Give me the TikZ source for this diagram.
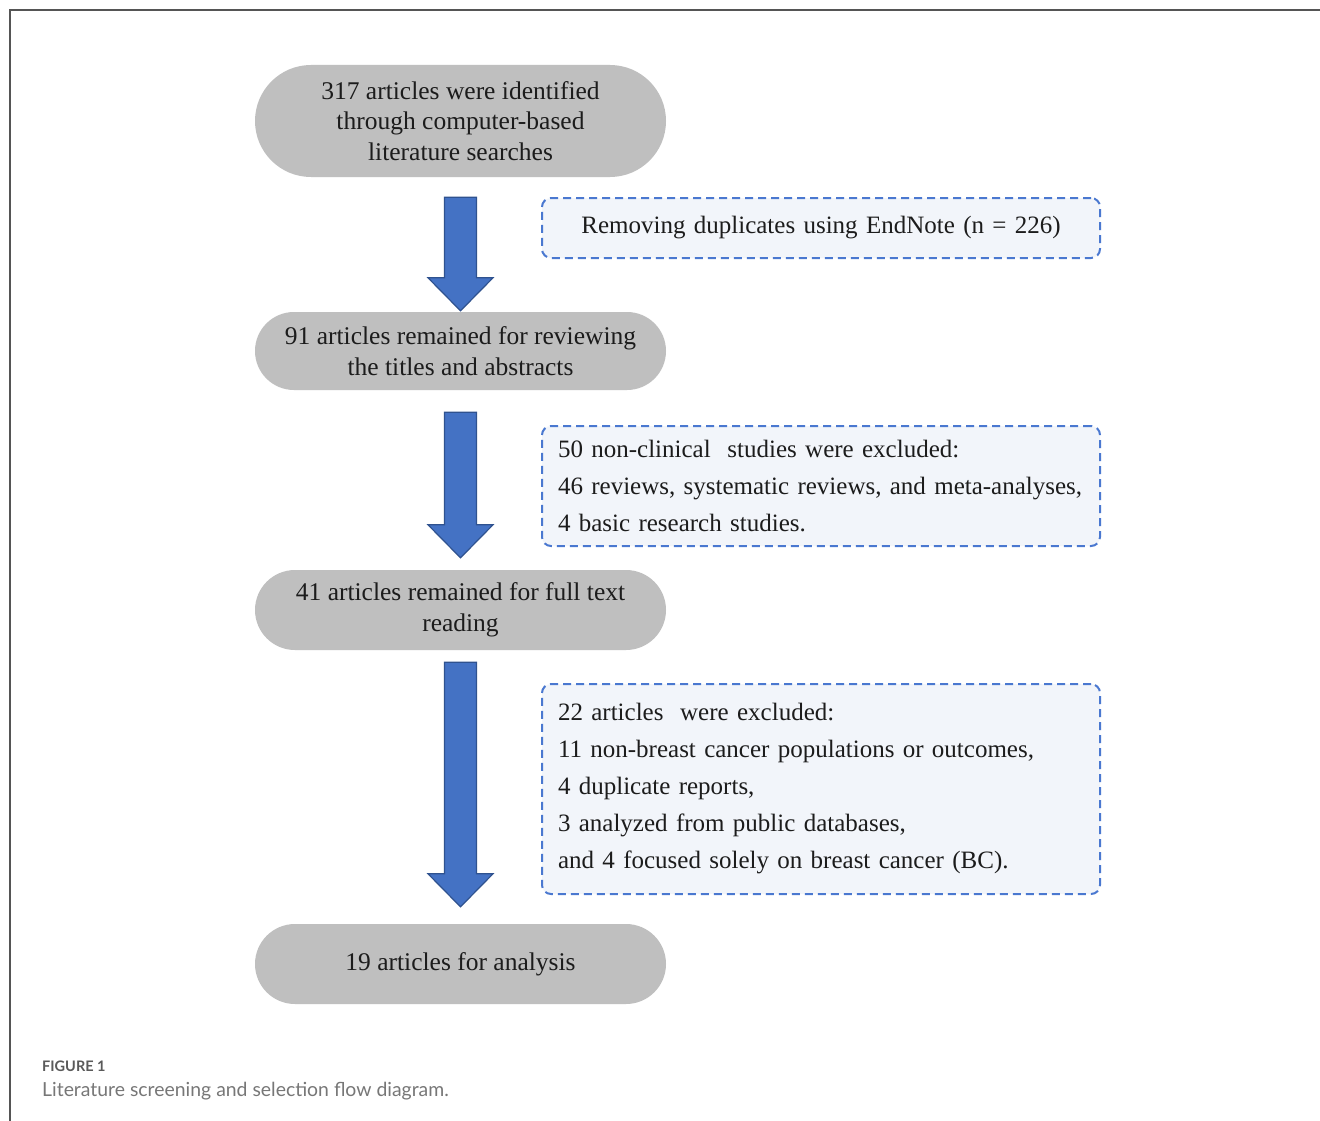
\documentclass[tikz,border=0pt]{standalone}
\usepackage{fontspec}
\setmainfont{Liberation Serif}
\newfontfamily\tnr{Liberation Serif}
\newfontfamily\capfont{Lato}
\usetikzlibrary{calc}
\pgfdeclarelayer{bg}
\pgfsetlayers{bg,main}
\definecolor{pillgray}{HTML}{BFBFBF}
\definecolor{glowc}{HTML}{A9BFEA}
\definecolor{arrowfill}{HTML}{4472C4}
\definecolor{arrowdraw}{HTML}{2F528F}
\definecolor{dashc}{HTML}{4A78D0}
\definecolor{dashfill}{HTML}{F2F5FA}
\definecolor{framec}{HTML}{555555}
\definecolor{txt}{HTML}{1C1C1C}
\definecolor{capgray}{HTML}{5A5A5A}
\definecolor{capgray2}{HTML}{777777}
\newcommand\glowpill[2]{%
  \begin{pgfonlayer}{bg}
  \foreach \r in {2,4,...,16}{%
    \fill[glowc, opacity=0.07, rounded corners=#2+\r]
      ($(#1.south west)+(-\r,\r+3)$) rectangle ($(#1.north east)+(\r,-\r+3)$);
  }
  \end{pgfonlayer}}
\newcommand\blockarrow[4]{%
  \filldraw[arrowst] ($(#1.south)+(-16,#2)$) -- ($(#1.south)+(16,#2)$)
    -- ($(#3.north)+(16,-#4-33)$) -- ($(#3.north)+(32.5,-#4-33)$)
    -- ($(#3.north)+(0,-#4)$) -- ($(#3.north)+(-32.5,-#4-33)$)
    -- ($(#3.north)+(-16,-#4-33)$) -- cycle;}
\begin{document}
\begin{tikzpicture}[x=1pt,y=-1pt,
  pill/.style={fill=pillgray, rounded corners=#1, minimum width=411, minimum height=2*#1,
    align=center, inner sep=0, text=txt, font=\tnr\fontsize{25.5}{30.5}\selectfont},
  dbox/.style={draw=dashc, fill=dashfill, dash pattern=on 8pt off 5pt, line width=2,
    rounded corners=9, minimum width=558, text width=536, inner xsep=11, inner ysep=0,
    text=txt, font=\tnr\fontsize{25}{37}\selectfont},
  arrowst/.style={fill=arrowfill, draw=arrowdraw, line width=1.2, line join=miter}]
\useasboundingbox (0,0) rectangle (1320,1121);
\fill[white] (0,0) rectangle (1320,1121);
\draw[framec, line width=2] (10,1121) -- (10,10) -- (1320,10);

\node[pill=56] (b1) at (460.5,121) {317 articles were identified\\through computer-based\\literature searches};
\node[pill=39] (b2) at (460.5,351) {91 articles remained for reviewing\\the titles and abstracts};
\node[pill=40] (b3) at (460.5,610) {41 articles remained for full text\\reading};
\node[pill=40] (b4) at (460.5,964) {19 articles for analysis};
\glowpill{b1}{56}
\glowpill{b2}{39}
\glowpill{b3}{40}
\glowpill{b4}{40}

\blockarrow{b1}{20}{b2}{1}
\blockarrow{b2}{22}{b3}{12}
\blockarrow{b3}{12}{b4}{17}

\node[dbox, align=center, minimum height=60] (d1) at (821,228) {Removing duplicates using EndNote (n = 226)};
\node[dbox, align=left, minimum height=120] (d2) at (821,486) {\hspace*{5pt}50 non-clinical\ \ studies were excluded:\\\hspace*{5pt}46 reviews, systematic reviews, and meta-analyses,\\\hspace*{5pt}4 basic research studies.};
\node[dbox, align=left, minimum height=210] (d3) at (821,789) {\hspace*{5pt}22 articles\ \ were excluded:\\\hspace*{5pt}11 non-breast cancer populations or outcomes,\\\hspace*{5pt}4 duplicate reports,\\\hspace*{5pt}3 analyzed from public databases,\\\hspace*{5pt}and 4 focused solely on breast cancer (BC).};

\node[anchor=base west, inner sep=0, text=capgray, font=\capfont\bfseries\fontsize{14.5}{17}\selectfont] (cap1) at (42,1071) {FIGURE 1};
\node[anchor=base west, inner sep=0, text=capgray2, font=\capfont\fontsize{19.4}{23}\selectfont] (cap2) at (42,1096) {Literature screening and selection flow diagram.};
\end{tikzpicture}
\end{document}
